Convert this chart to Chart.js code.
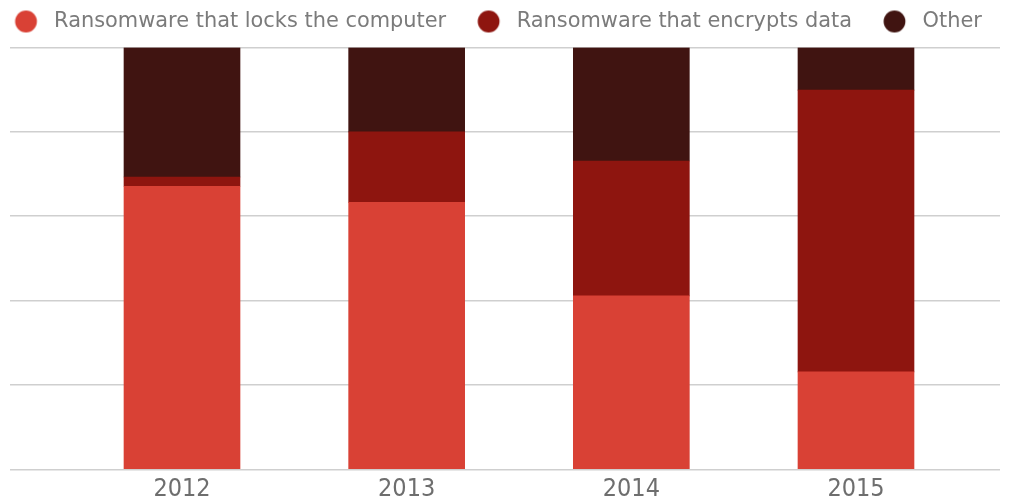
<!DOCTYPE html>
<html>
<head>
<meta charset="utf-8">
<script src="https://cdn.jsdelivr.net/npm/chart.js@4.4.1/dist/chart.umd.min.js"></script>
<style>
  html, body { margin: 0; padding: 0; background: #ffffff; }
  #wrap { width: 1011px; height: 499px; position: relative; }
</style>
</head>
<body>
<div id="wrap"><canvas id="c"></canvas></div>
<script>
// ---- data ----
const years = ['2012', '2013', '2014', '2015'];
const seriesNames = ['Ransomware that locks the computer', 'Ransomware that encrypts data', 'Other'];
const lockerShare = [67.1, 63.3, 41.1, 23.1];
const cryptoShare = [2.2, 16.7, 32.0, 66.8];
const otherShare = [30.7, 20.0, 26.9, 10.1];
const yTicks = [0, 20, 40, 60, 80, 100];

const colors = ['#d94135', '#8e150f', '#401411'];

function dot(color) {
  const c = document.createElement('canvas');
  c.width = 42; c.height = 24;
  const g = c.getContext('2d');
  g.fillStyle = color;
  g.beginPath();
  g.arc(21 + 7.4, 12, 10.9, 0, Math.PI * 2);
  g.fill();
  return c;
}
const dots = colors.map(dot);

const toPoints = arr => arr.map((v, i) => ({ x: i, y: v }));

const chart = new Chart(document.getElementById('c'), {
  type: 'bar',
  data: {
    datasets: [
      { label: seriesNames[0], data: toPoints(lockerShare), backgroundColor: colors[0] },
      { label: seriesNames[1], data: toPoints(cryptoShare), backgroundColor: colors[1] },
      { label: seriesNames[2], data: toPoints(otherShare), backgroundColor: colors[2] }
    ].map(d => Object.assign(d, { xAxisID: 'x', yAxisID: 'y', borderWidth: 0, barThickness: 116 }))
  },
  options: {
    responsive: true,
    maintainAspectRatio: false,
    animation: false,
    layout: { padding: { left: -16.5, top: 1, right: 0, bottom: 0 } },
    plugins: {
      tooltip: { enabled: false },
      legend: {
        position: 'top',
        align: 'start',
        labels: {
          usePointStyle: true,
          pointStyleWidth: 50.15,
          padding: 10,
          color: '#7b7b7b',
          font: { family: 'DejaVu Sans', size: 20.9 },
          generateLabels: (ch) => {
            const items = Chart.defaults.plugins.legend.labels.generateLabels(ch);
            items.forEach((it) => { it.pointStyle = dots[it.datasetIndex]; });
            return items;
          }
        }
      }
    },
    scales: {
      x: {
        type: 'linear',
        position: 'bottom',
        stacked: true,
        offset: false,
        min: -0.7656,
        max: 3.641,
        grid: { display: false, drawTicks: false, offset: false },
        border: { display: false },
        ticks: {
          stepSize: 1,
          includeBounds: false,
          autoSkip: false,
          maxRotation: 0,
          padding: 5,
          color: '#6e6e6e',
          font: { family: 'DejaVu Sans Condensed', size: 25 },
          callback: (v) => (years[v] !== undefined ? years[v] : '')
        },
        afterFit: (s) => { s.height = 29.7; }
      },
      xTop: {
        type: 'category',
        position: 'top',
        grid: { display: false, drawTicks: false },
        border: { display: false },
        ticks: { display: false },
        afterFit: (s) => { s.height = 5.6; }
      },
      y: {
        position: 'left',
        stacked: true,
        min: yTicks[0],
        max: yTicks[yTicks.length - 1],
        ticks: { display: false, stepSize: yTicks[1] - yTicks[0] },
        grid: { color: '#cfcfcf', lineWidth: 1.5, drawTicks: false },
        border: { display: false },
        afterFit: (s) => { s.width = 26.5; }
      },
      yR: {
        position: 'right',
        grid: { display: false, drawTicks: false },
        border: { display: false },
        ticks: { display: false },
        afterFit: (s) => { s.width = 11; }
      }
    }
  }
});
</script>
</body>
</html>
